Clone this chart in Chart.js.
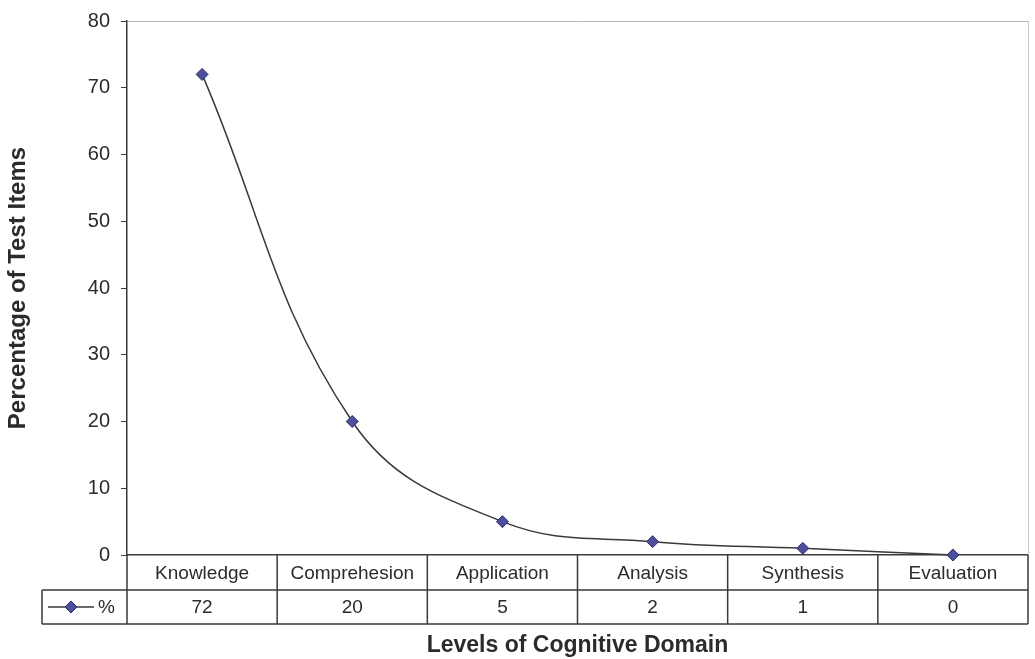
<!DOCTYPE html>
<html>
<head>
<meta charset="utf-8">
<script src="https://cdn.jsdelivr.net/npm/chart.js@4/dist/chart.umd.min.js"></script>
<style>
    html, body { margin: 0; padding: 0; background: #fff; }
    #wrap { width: 1035px; height: 659px; }
</style>
</head>
<body>
<div id="wrap"><canvas id="chart" width="1035" height="659"></canvas></div>
<script>
// Data
const levels = ['Knowledge', 'Comprehesion', 'Application', 'Analysis', 'Synthesis', 'Evaluation'];
const percents = [72, 20, 5, 2, 1, 0];
const seriesName = '%';

const FONT = '"Liberation Sans", Arial, sans-serif';
const INK = '#2b2b2b';
const LINE = '#3a3a3a';
const MARK_FILL = '#4d4f9c';
const MARK_EDGE = '#2e2f66';

/**
 * Draws the Excel-style data table under the x axis, plus the right plot border.
 */
const dataTable = {
    id: 'dataTable',
    afterDraw(chart) {
        const ctx = chart.ctx;
        const x = chart.scales.x;
        const area = chart.chartArea;
        const step = x.getPixelForValue(1) - x.getPixelForValue(0);
        const top = area.bottom;
        const mid = top + 35;
        const bottom = top + 69;
        const legendLeft = 42;

        ctx.save();
        // faint right border of plot area
        ctx.strokeStyle = '#c8c8c8';
        ctx.lineWidth = 1;
        ctx.beginPath();
        ctx.moveTo(area.right + 0.5, area.top);
        ctx.lineTo(area.right + 0.5, top);
        ctx.stroke();

        ctx.strokeStyle = LINE;
        ctx.lineWidth = 1.5;
        ctx.beginPath();
        // row lines
        ctx.moveTo(legendLeft, mid);
        ctx.lineTo(area.right, mid);
        ctx.moveTo(legendLeft, bottom);
        ctx.lineTo(area.right, bottom);
        // legend cell left edge
        ctx.moveTo(legendLeft, mid);
        ctx.lineTo(legendLeft, bottom);
        // column boundaries
        for (let i = 0; i <= levels.length; i++) {
            const bx = i < levels.length ? x.getPixelForValue(i) - step / 2 : area.right;
            ctx.moveTo(bx, top);
            ctx.lineTo(bx, bottom);
        }
        ctx.stroke();

        ctx.fillStyle = INK;
        ctx.font = '19px ' + FONT;
        ctx.textAlign = 'center';
        ctx.textBaseline = 'middle';
        levels.forEach((name, i) => {
            const cx = x.getPixelForValue(i);
            ctx.fillText(name, cx, (top + mid) / 2 + 1);
            ctx.fillText(String(percents[i]), cx, (mid + bottom) / 2 + 1);
        });

        // legend key in the first cell
        const ky = (mid + bottom) / 2;
        ctx.strokeStyle = LINE;
        ctx.lineWidth = 1.5;
        ctx.beginPath();
        ctx.moveTo(48, ky);
        ctx.lineTo(94, ky);
        ctx.stroke();
        ctx.fillStyle = MARK_FILL;
        ctx.strokeStyle = MARK_EDGE;
        ctx.lineWidth = 1;
        ctx.beginPath();
        ctx.moveTo(71, ky - 6);
        ctx.lineTo(77, ky);
        ctx.lineTo(71, ky + 6);
        ctx.lineTo(65, ky);
        ctx.closePath();
        ctx.fill();
        ctx.stroke();
        ctx.fillStyle = INK;
        ctx.textAlign = 'left';
        ctx.fillText(seriesName, 98, ky + 1);
        ctx.restore();
    }
};

const ctx = document.getElementById('chart').getContext('2d');
new Chart(ctx, {
    type: 'line',
    data: {
        labels: levels,
        datasets: [{
            label: seriesName,
            data: percents,
            borderColor: LINE,
            borderWidth: 1.5,
            tension: 0.4,
            pointStyle: 'rectRot',
            pointRadius: 6,
            pointBackgroundColor: MARK_FILL,
            pointBorderColor: MARK_EDGE,
            pointBorderWidth: 1,
            clip: false
        }]
    },
    options: {
        responsive: false,
        animation: false,
        events: [],
        layout: { padding: { top: 21, right: 4, left: 0, bottom: 0 } },
        plugins: {
            legend: { display: false },
            tooltip: { enabled: false }
        },
        scales: {
            x: {
                type: 'category',
                offset: true,
                grid: { display: false },
                border: { display: true, color: LINE, width: 1.5 },
                ticks: { display: false },
                title: {
                    display: true,
                    text: 'Levels of Cognitive Domain',
                    color: INK,
                    font: { family: FONT, size: 23, weight: 'bold' },
                    padding: { top: 0, bottom: 0 }
                },
                afterFit(scale) {
                    scale.height = 104;
                    scale.paddingRight = 0;
                    scale.paddingLeft = 0;
                }
            },
            y: {
                min: 0,
                max: 80,
                ticks: {
                    stepSize: 10,
                    color: INK,
                    padding: 11,
                    font: { family: FONT, size: 20 }
                },
                grid: {
                    color: c => (c.tick && c.tick.value === 80 ? '#b8b8b8' : 'transparent'),
                    tickColor: LINE,
                    tickLength: 6,
                    drawTicks: true
                },
                border: { display: true, color: LINE, width: 1.5 },
                title: {
                    display: true,
                    text: 'Percentage of Test Items',
                    color: INK,
                    font: { family: FONT, size: 24, weight: 'bold' },
                    padding: { top: 4, bottom: 0 }
                },
                afterFit(scale) {
                    scale.width = 127;
                    scale.paddingTop = 0;
                    scale.paddingBottom = 0;
                }
            }
        }
    },
    plugins: [dataTable]
});
</script>
</body>
</html>
